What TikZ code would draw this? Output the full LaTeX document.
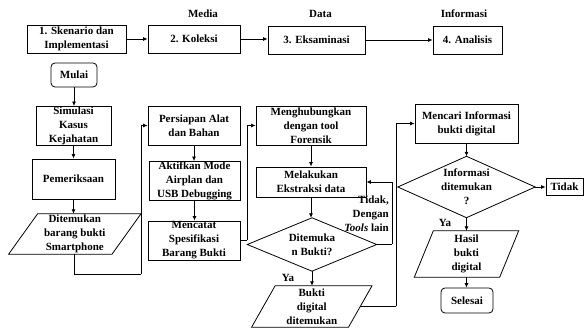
\documentclass[tikz,border=0pt]{standalone}
\usepackage{fontspec}
\setmainfont{Liberation Serif}
\usetikzlibrary{arrows.meta}
\begin{document}
\begin{tikzpicture}[x=1pt,y=-1pt,
  every node/.style={font=\bfseries\fontsize{11}{14}\selectfont, align=center, inner sep=0pt},
  sz/.style 2 args={minimum width=#1pt, minimum height=#2pt},
  proc/.style={draw, line width=0.8pt},
  term/.style={draw, line width=0.8pt, rounded corners=4pt},
  outline/.style={line width=0.8pt},
  arr/.style={line width=0.8pt, -{Latex[length=4.5pt,width=4pt]}},
  conn/.style={line width=0.8pt}]
\useasboundingbox (0,0) rectangle (587,331);

% top row
\node[proc, sz={99}{28}] (s1) at (76.5,39) {1. Skenario dan\\Implementasi};
\node[proc, sz={92}{28}] (s2) at (194,39) {2. Koleksi};
\node[proc, sz={97}{28}] (s3) at (316.5,40) {3. Eksaminasi};
\node[proc, sz={69}{28}] (s4) at (467.5,40) {4. Analisis};
\node (lmedia) at (203,14) {Media};
\node (ldata) at (320.5,14) {Data};
\node (linfo) at (464,14) {Informasi};
\draw[arr] (s1.east) -- (s2.west);
\draw[arr] (s2.east) -- (s3.west |- s2.east);
\draw[arr] (s3.east) -- (s4.west);

% column 1
\node[term, sz={46}{24}] (mulai) at (74,75) {Mulai};
\node[proc, sz={75}{39}] (sim) at (73.5,126) {Simulasi\\Kasus\\Kejahatan};
\node[proc, sz={83}{40}] (periksa) at (73.5,179) {Pemeriksaan};
\node[sz={103}{40}] (p1) at (74.8,234) {Ditemukan\\barang bukti\\Smartphone};
\draw[outline] ([xshift=14.5pt]p1.north west) -- ([xshift=14.5pt]p1.north east) -- ([xshift=-14.5pt]p1.south east) -- ([xshift=-14.5pt]p1.south west) -- cycle;
\draw[arr] (mulai.south) -- (mulai.south |- sim.north);
\draw[arr] (sim.south) -- (sim.south |- periksa.north);
\draw[arr] (periksa.south) -- (periksa.south |- p1.north);

% column 2
\node[proc, sz={92}{39}] (siap) at (194,125.5) {Persiapan Alat\\dan Bahan};
\node[proc, sz={91}{39}] (aktif) at (194.5,181) {Aktifkan Mode\\Airplan dan\\USB Debugging};
\node[proc, sz={92}{39}] (catat) at (194,240.5) {Mencatat\\Spesifikasi\\Barang Bukti};
\coordinate (c1) at (141,274);
\draw[conn] (p1.south) |- (c1);
\draw[arr] (c1) |- (siap.west);
\draw[arr] (siap.south) -- (siap.south |- aktif.north);
\draw[arr] (aktif.south) -- (aktif.south |- catat.north);

% column 3
\node[proc, sz={110}{39}] (hub) at (311,125.5) {Menghubungkan\\dengan tool\\Forensik};
\node[proc, sz={110}{30}] (ekstrak) at (311,182) {Melakukan\\Ekstraksi data};
\node[sz={129}{53}] (d1) at (312,244.5) {Ditemuka\\n Bukti?};
\draw[outline] (d1.north) -- (d1.east) -- (d1.south) -- (d1.west) -- cycle;
\node[sz={96.5}{41}] (p2) at (311.8,306.5) {Bukti\\digital\\ditemukan};
\draw[outline] ([xshift=11.75pt]p2.north west) -- ([xshift=11.75pt]p2.north east) -- ([xshift=-11.75pt]p2.south east) -- ([xshift=-11.75pt]p2.south west) -- cycle;
\coordinate (c2) at (247,240.5);
\draw[conn] (catat.east) -- (c2);
\draw[arr] (c2) |- (hub.west);
\draw[arr] (hub.south) -- (hub.south |- ekstrak.north);
\draw[arr] (ekstrak.south) -- (ekstrak.south |- d1.north);
\coordinate (c3) at (392,244.5);
\draw[conn] (d1.east) -- (c3);
\draw[arr] (c3) |- (ekstrak.east);
\node[anchor=north east, align=right] (ltidak1) at (389,196) {Tidak,\\Dengan\\\textit{Tools} lain};
\draw[arr] (d1.south) -- (d1.south |- p2.north);
\node (lya1) at (288,278) {Ya};

% column 4
\node[proc, sz={103}{39}] (cari) at (466.5,123.5) {Mencari Informasi\\bukti digital};
\node[sz={137}{61}] (d2) at (466.5,187) {Informasi\\ditemukan\\?};
\draw[outline] (d2.north) -- (d2.east) -- (d2.south) -- (d2.west) -- cycle;
\node[proc, sz={37}{17}] (tidak) at (564.5,187) {Tidak};
\node[sz={85}{46}] (p3) at (466.5,254) {Hasil\\bukti\\digital};
\draw[outline] ([xshift=9.5pt]p3.north west) -- ([xshift=9.5pt]p3.north east) -- ([xshift=-9.5pt]p3.south east) -- ([xshift=-9.5pt]p3.south west) -- cycle;
\node[term, sz={52}{25}] (selesai) at (467,300.5) {Selesai};
\coordinate (c4) at (396,306.5);
\draw[conn] (p2.east) -- (c4);
\draw[arr] (c4) |- (cari.west);
\draw[arr] (cari.south) -- (cari.south |- d2.north);
\draw[arr] (d2.east) -- (tidak.west);
\draw[arr] (d2.south) -- (d2.south |- p3.north);
\draw[arr] (p3.south) -- (p3.south |- selesai.north);
\node (lya2) at (445,223) {Ya};
\end{tikzpicture}
\end{document}
